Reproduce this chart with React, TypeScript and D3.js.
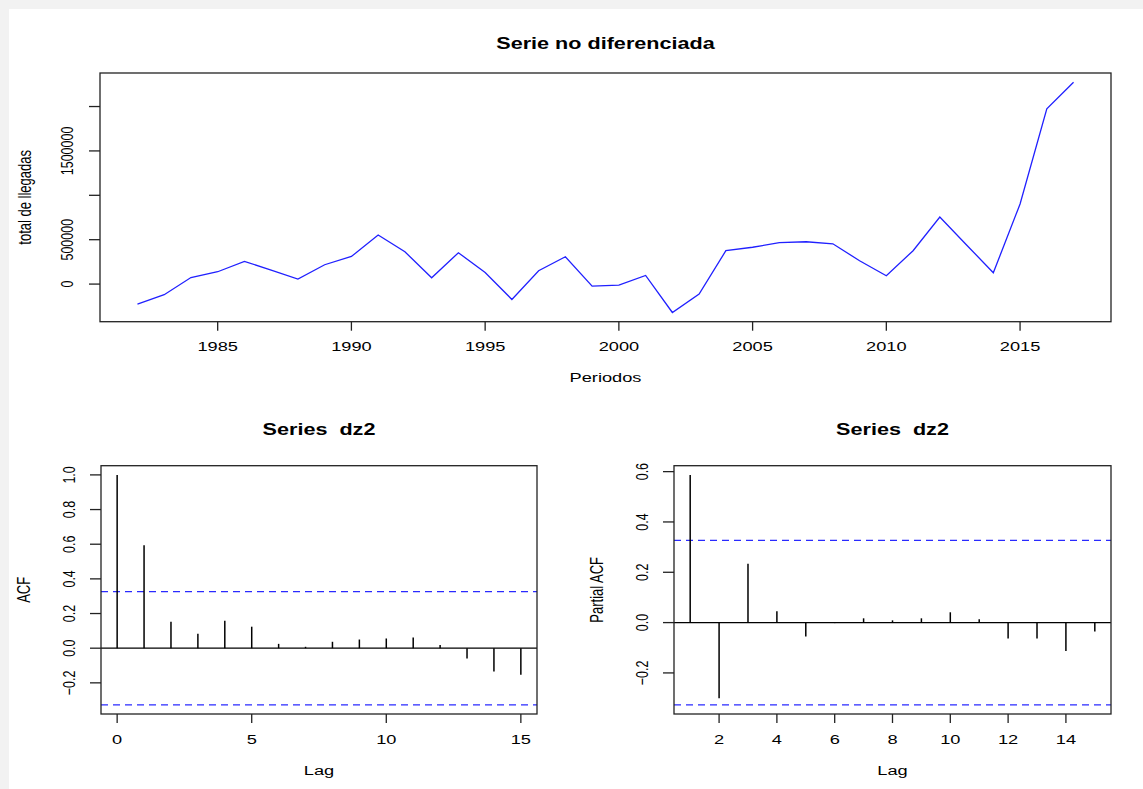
import { useEffect, useRef } from 'react';
import * as d3 from 'd3';

// Serie original (total de llegadas, diferenciada una vez en el origen)
const years = [
  1982, 1983, 1984, 1985, 1986, 1987, 1988, 1989, 1990, 1991, 1992, 1993,
  1994, 1995, 1996, 1997, 1998, 1999, 2000, 2001, 2002, 2003, 2004, 2005,
  2006, 2007, 2008, 2009, 2010, 2011, 2012, 2013, 2014, 2015, 2016, 2017,
];
const arrivals = [
  -225000, -120000, 74000, 139000, 255000, 158000, 56000, 218000, 311000, 553000, 364000, 71000,
  353000, 131000, -173000, 150000, 308000, -23000, -11000, 97000, -320000, -113000, 376000, 415000,
  466000, 477000, 454000, 263000, 94000, 376000, 755000, 441000, 127000, 902000, 1974000, 2274000,
];
const yearTicks = [1985, 1990, 1995, 2000, 2005, 2010, 2015];
const arrivalTicks = [0, 500000, 1000000, 1500000, 2000000];
const arrivalLabels = ['0', '500000', '', '1500000', ''];

const acfLags = [0, 1, 2, 3, 4, 5, 6, 7, 8, 9, 10, 11, 12, 13, 14, 15];
const acfValues = [1.0, 0.594, 0.153, 0.083, 0.159, 0.124, 0.025, 0.008, 0.037, 0.05, 0.056, 0.062, 0.019, -0.06, -0.135, -0.153];
const acfXTicks = [0, 5, 10, 15];
const acfYTicks = [-0.2, 0, 0.2, 0.4, 0.6, 0.8, 1.0];

const pacfLags = [1, 2, 3, 4, 5, 6, 7, 8, 9, 10, 11, 12, 13, 14, 15];
const pacfValues = [0.587, -0.301, 0.234, 0.045, -0.055, -0.002, 0.017, 0.009, 0.017, 0.041, 0.013, -0.063, -0.063, -0.113, -0.035];
const pacfXTicks = [2, 4, 6, 8, 10, 12, 14];
const pacfYTicks = [-0.2, 0, 0.2, 0.4, 0.6];

const clim = 0.3267;

const FONT = '"Liberation Sans", Arial, Helvetica, sans-serif';
const STRETCH = 1.35;

// R-like range with 4% padding
const pad = (lo, hi) => {
  const d = (hi - lo) * 0.04;
  return [lo - d, hi + d];
};

const text = (g, x, y, str, size, opts = {}) => {
  const t = g.append('text')
    .attr('transform', `translate(${x},${y}) scale(${STRETCH},1)${opts.rotate ? ' rotate(-90)' : ''}`)
    .attr('text-anchor', 'middle')
    .attr('dominant-baseline', 'central')
    .style('font-family', FONT)
    .style('font-size', size + 'px')
    .style('white-space', 'pre')
    .style('fill', '#000')
    .text(str);
  if (opts.bold) t.style('font-weight', 'bold');
  return t;
};

const frame = (g, x0, x1, y0, y1) => {
  g.append('rect')
    .attr('x', x0).attr('y', y0)
    .attr('width', x1 - x0).attr('height', y1 - y0)
    .attr('fill', 'none').attr('stroke', '#222').attr('stroke-width', 1.3);
};

const drawCorrelogram = (g, box, lags, values, xTicks, yTicks, yLabel) => {
  const [l, r, t, b] = box;
  const x = d3.scaleLinear().domain(pad(d3.min(lags), d3.max(lags))).range([l, r]);
  const y = d3.scaleLinear()
    .domain(pad(Math.min(-clim, d3.min(values)), Math.max(clim, d3.max(values))))
    .range([b, t]);

  // zero line
  g.append('line').attr('x1', l).attr('x2', r).attr('y1', y(0)).attr('y2', y(0))
    .attr('stroke', '#000').attr('stroke-width', 1.3);

  // confidence bands
  [clim, -clim].forEach(c => {
    g.append('line').attr('x1', l).attr('x2', r).attr('y1', y(c)).attr('y2', y(c))
      .attr('stroke', '#2a2aff').attr('stroke-width', 1.2).attr('stroke-dasharray', '7,5');
  });

  g.selectAll(null).data(lags).join('line')
    .attr('x1', d => x(d)).attr('x2', d => x(d))
    .attr('y1', y(0)).attr('y2', (d, i) => y(values[i]))
    .attr('stroke', '#000').attr('stroke-width', 1.5);

  frame(g, l, r, t, b);

  xTicks.forEach(v => {
    g.append('line').attr('x1', x(v)).attr('x2', x(v)).attr('y1', b).attr('y2', b + 9)
      .attr('stroke', '#222').attr('stroke-width', 1.3);
    text(g, x(v), b + 25, String(v), 13.5);
  });
  yTicks.forEach(v => {
    g.append('line').attr('x1', l).attr('x2', l - 11).attr('y1', y(v)).attr('y2', y(v))
      .attr('stroke', '#222').attr('stroke-width', 1.3);
    text(g, l - 32, y(v), d3.format('.1f')(v), 12.5, { rotate: true });
  });

  text(g, (l + r) / 2, t - 36, 'Series  dz2', 16, { bold: true });
  text(g, (l + r) / 2, b + 56, 'Lag', 13.5);
  text(g, l - 77, (t + b) / 2, yLabel, 13, { rotate: true });
};

const App = () => {
  const svgRef = useRef(null);

  useEffect(() => {
    const svg = d3.select(svgRef.current);
    svg.selectAll('*').remove();

    svg.append('rect').attr('width', 1143).attr('height', 789).attr('fill', '#f2f2f2');
    svg.append('rect').attr('x', 9).attr('y', 9).attr('width', 1134).attr('height', 780).attr('fill', '#fff');

    // --- top: serie no diferenciada
    const top = svg.append('g');
    const [l, r, t, b] = [100, 1111, 73, 321.7];
    const x = d3.scaleLinear().domain(pad(d3.min(years), d3.max(years))).range([l, r]);
    const y = d3.scaleLinear().domain(pad(d3.min(arrivals), d3.max(arrivals))).range([b, t]);

    const line = d3.line().x((d, i) => x(years[i])).y(d => y(d));
    top.append('path').datum(arrivals).attr('d', line)
      .attr('fill', 'none').attr('stroke', '#2020ff').attr('stroke-width', 1.3);

    frame(top, l, r, t, b);

    yearTicks.forEach(v => {
      top.append('line').attr('x1', x(v)).attr('x2', x(v)).attr('y1', b).attr('y2', b + 9)
        .attr('stroke', '#222').attr('stroke-width', 1.3);
      text(top, x(v), b + 24, String(v), 13.5);
    });
    arrivalTicks.forEach((v, i) => {
      top.append('line').attr('x1', l).attr('x2', l - 11).attr('y1', y(v)).attr('y2', y(v))
        .attr('stroke', '#222').attr('stroke-width', 1.3);
      if (arrivalLabels[i]) text(top, l - 33, y(v), arrivalLabels[i], 12.5, { rotate: true });
    });

    text(top, (l + r) / 2, 44, 'Serie no diferenciada', 16, { bold: true });
    text(top, (l + r) / 2, 377, 'Periodos', 13.5);
    text(top, l - 75, (t + b) / 2, 'total de llegadas', 13, { rotate: true });

    // --- bottom: ACF y PACF
    drawCorrelogram(svg.append('g'), [101, 537, 465.7, 714], acfLags, acfValues, acfXTicks, acfYTicks, 'ACF');
    drawCorrelogram(svg.append('g'), [674, 1111, 465.7, 714], pacfLags, pacfValues, pacfXTicks, pacfYTicks, 'Partial ACF');
  }, []);

  return (
    <svg ref={svgRef} width={1143} height={789}
      style={{ position: 'absolute', top: 0, left: 0, display: 'block' }} />
  );
};

export default App;
